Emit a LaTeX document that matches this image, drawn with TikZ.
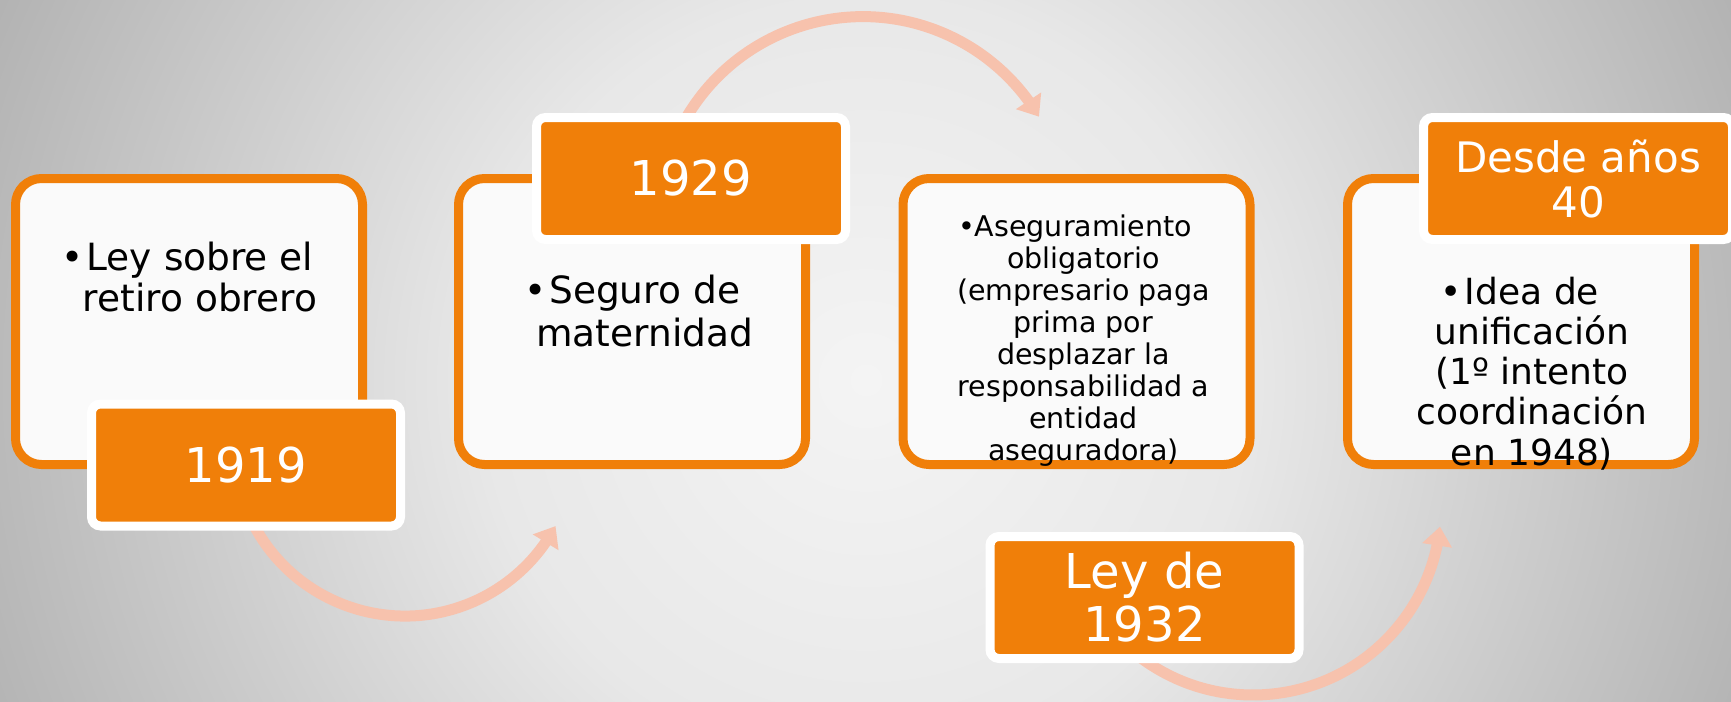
\documentclass[tikz,border=0pt]{standalone}
\usepackage{fontspec}
\setmainfont{DejaVu Sans}
\usepackage{tikz}
\usetikzlibrary{arrows.meta}
\usetikzlibrary{bending}
\definecolor{naranja}{HTML}{F07F09}
\definecolor{salmon}{HTML}{F7C2AD}
\definecolor{fondoA}{HTML}{F4F4F4}
\definecolor{fondoB}{HTML}{E8E8E8}
\definecolor{fondoC}{HTML}{A8A8A8}
\pgfdeclareradialshading{fondo}{\pgfpoint{0bp}{0bp}}{color(0bp)=(fondoA); color(9bp)=(fondoB); color(25bp)=(fondoC); color(50bp)=(fondoC)}

\begin{document}
\begin{tikzpicture}[x=1pt,y=-1pt,
		caja/.style={draw=naranja, line width=9pt, fill=white!98!black, rounded corners=26pt, minimum width=347pt, minimum height=286pt, inner sep=0pt},
		fecha/.style={draw=white, line width=9pt, fill=naranja, rounded corners=9pt, minimum width=309pt, minimum height=122pt, inner sep=0pt, text=white, align=center, font=\fontsize{48}{53}\selectfont},
		texto/.style={align=center, inner sep=0pt, font=\fontsize{37.5}{41}\selectfont},
		flecha/.style={salmon, line width=11pt, -{Triangle[width=29pt,length=19pt,flex]}}]
			\useasboundingbox (0,0) rectangle (1731,701);
			\begin{scope}
				\clip (0,0) rectangle (1731,701);
				\fill[fondoC] (0,0) rectangle (1731,701);
				\shade[shading=fondo] (866,380) circle (1060);
			\end{scope}
			\node[caja] (c1) at (189,321.5) {};
			\node[caja] (c2) at (632,321.5) {};
			\node[caja] (c3) at (1076.5,321.5) {};
			\node[caja] (c4) at (1521,321.5) {};
			\coordinate (a1) at (250,517.3);
			\coordinate (a2) at (681.9,125.4);
			\coordinate (a3) at (1132.2,651);
			\draw [flecha] (a1) arc[start angle=155, end angle=28.3, radius=171];
			\draw [flecha] (a2) arc[start angle=208, end angle=329.2, radius=205];
			\draw [flecha] (a3) arc[start angle=130, end angle=6, radius=188];
			\node[fecha] (f1) at (246,465) {1919};
			\node[fecha] (f2) at (691,178.5) {1929};
			\node[fecha] (f3) at (1144.5,597.5) {Ley de\\1932};
			\node[fecha, font=\fontsize{42}{45}\selectfont] (f4) at (1578,178.5) {Desde años\\40};
			\node[texto] (t1) at (200,277.3) {\llap{•\hspace{3pt}}Ley sobre el\\retiro obrero};
			\node[texto, font=\fontsize{37.5}{43}\selectfont] (t2) at (644.7,311.3) {\llap{•\hspace{3pt}}Seguro de\\maternidad};
			\node[texto, font=\fontsize{28.5}{32}\selectfont] (t3) at (1083.5,340.6) {\llap{•}Aseguramiento\\obligatorio\\(empresario paga\\prima por\\desplazar la\\responsabilidad a\\entidad\\aseguradora)};
			\node[texto, font=\fontsize{36}{40.25}\selectfont] (t4) at (1532,373.2) {\llap{•\hspace{3pt}}Idea de\\unificación\\(1º intento\\coordinación\\en 1948)};
		\end{tikzpicture}
\end{document}
